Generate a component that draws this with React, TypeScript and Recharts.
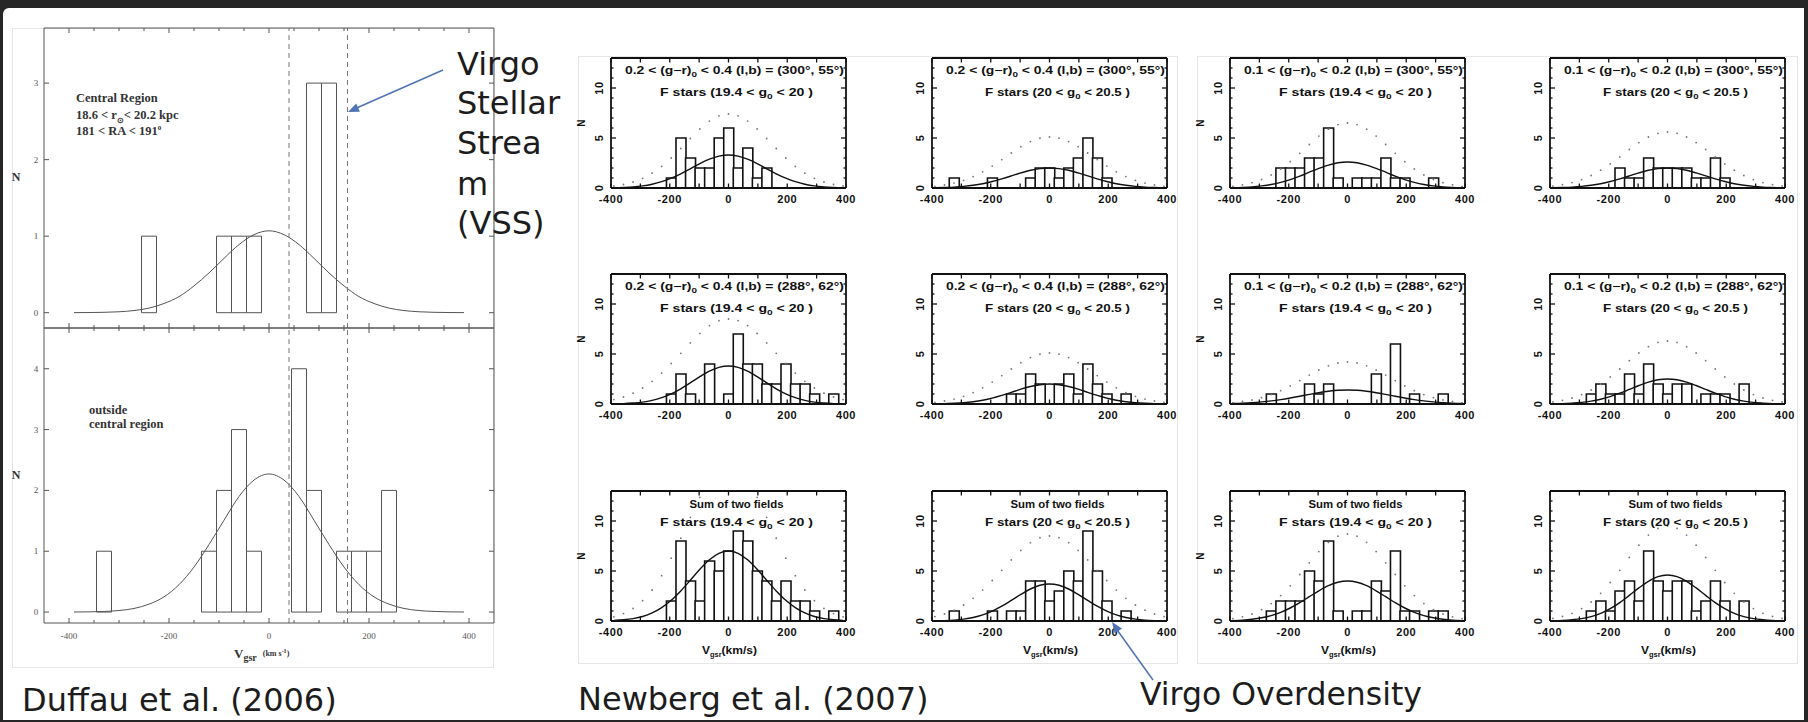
import React from 'react';
import { ComposedChart, Bar, Line, XAxis, YAxis, ReferenceLine } from 'recharts';

// ---- Duffau et al. (2006): 30 km/s bins, Gaussian fits on the same grid ----
const duffauBins = [-390, -360, -330, -300, -270, -240, -210, -180, -150, -120, -90, -60, -30, 0, 30, 60, 90, 120, 150, 180, 210, 240, 270, 300, 330, 360, 390];
const duffauCentral = [0, 0, 0, 0, 0, 1, 0, 0, 0, 0, 1, 1, 1, 0, 0, 0, 3, 3, 0, 0, 0, 0, 0, 0, 0, 0, 0];
const duffauOutside = [0, 0, 1, 0, 0, 0, 0, 0, 0, 1, 2, 3, 1, 0, 0, 4, 2, 0, 1, 1, 1, 2, 0, 0, 0, 0, 0];
const duffauCentralFit = [0.001, 0.002, 0.005, 0.012, 0.028, 0.06, 0.12, 0.21, 0.35, 0.52, 0.71, 0.89, 1.02, 1.07, 1.02, 0.89, 0.71, 0.52, 0.35, 0.21, 0.12, 0.06, 0.028, 0.012, 0.005, 0.002, 0.001];
const duffauOutsideFit = [0.001, 0.003, 0.01, 0.025, 0.059, 0.13, 0.25, 0.45, 0.74, 1.11, 1.51, 1.9, 2.17, 2.27, 2.17, 1.9, 1.51, 1.11, 0.74, 0.45, 0.25, 0.13, 0.059, 0.025, 0.01, 0.003, 0.001];
const duffauXTicks = [-400, -350, -300, -250, -200, -150, -100, -50, 0, 50, 100, 150, 200, 250, 300, 350, 400];
const duffauXLabels = [-400, -200, 0, 200, 400];
const duffauStreamEdges = [40, 157];

// ---- Newberg et al. (2007): 32.5 km/s bins ----
const newbergBins = [-390, -357.5, -325, -292.5, -260, -227.5, -195, -162.5, -130, -97.5, -65, -32.5, 0, 32.5, 65, 97.5, 130, 162.5, 195, 227.5, 260, 292.5, 325, 357.5, 390];
const newbergXTicks = [-400, -300, -200, -100, 0, 100, 200, 300, 400];
const newbergXLabels = [-400, -200, 0, 200, 400];
const newbergYTicks = [0, 1, 2, 3, 4, 5, 6, 7, 8, 9, 10, 11, 12, 13];
const newbergYLabels = [0, 5, 10];

// 0.2 < (g-r)0 < 0.4
const redBright300 = [0, 0, 0, 0, 0, 0, 1, 5, 3, 2, 2, 5, 6, 2, 4, 1, 2, 0, 0, 0, 0, 0, 0, 0, 0];
const redFaint300 = [0, 0, 1, 0, 0, 0, 1, 0, 0, 0, 1, 2, 2, 1, 2, 3, 5, 3, 1, 0, 0, 0, 0, 0, 0];
const redBright288 = [0, 0, 0, 0, 0, 0, 1, 3, 1, 0, 4, 0, 1, 7, 4, 4, 2, 2, 4, 2, 2, 1, 0, 1, 0];
const redFaint288 = [0, 0, 0, 0, 0, 0, 0, 0, 1, 1, 3, 2, 0, 2, 3, 1, 4, 2, 1, 0, 1, 0, 0, 0, 0];
const redBrightSum = [0, 0, 0, 0, 0, 0, 2, 8, 4, 2, 6, 5, 7, 9, 8, 5, 4, 2, 4, 2, 2, 1, 0, 1, 0];
const redFaintSum = [0, 0, 1, 0, 0, 0, 1, 0, 1, 1, 4, 4, 2, 3, 5, 4, 9, 5, 2, 0, 1, 0, 0, 0, 0];

const redBright300Fit = [0.03, 0.06, 0.11, 0.21, 0.38, 0.63, 0.98, 1.42, 1.92, 2.44, 2.88, 3.19, 3.3, 3.19, 2.88, 2.44, 1.92, 1.42, 0.98, 0.63, 0.38, 0.21, 0.11, 0.06, 0.03];
const redBright300Model = [0.2, 0.35, 0.6, 0.97, 1.48, 2.16, 3.0, 3.95, 4.95, 5.91, 6.69, 7.22, 7.4, 7.22, 6.69, 5.91, 4.95, 3.95, 3.0, 2.16, 1.48, 0.97, 0.6, 0.35, 0.2];
const redFaint300Fit = [0.02, 0.05, 0.09, 0.16, 0.27, 0.43, 0.65, 0.92, 1.21, 1.51, 1.77, 1.94, 2.0, 1.94, 1.77, 1.51, 1.21, 0.92, 0.65, 0.43, 0.27, 0.16, 0.09, 0.05, 0.02];
const redFaint300Model = [0.17, 0.3, 0.49, 0.76, 1.14, 1.62, 2.19, 2.84, 3.5, 4.13, 4.64, 4.98, 5.1, 4.98, 4.64, 4.13, 3.5, 2.84, 2.19, 1.62, 1.14, 0.76, 0.49, 0.3, 0.17];
const redBright288Fit = [0.02, 0.04, 0.1, 0.19, 0.36, 0.63, 1.01, 1.52, 2.11, 2.73, 3.28, 3.66, 3.8, 3.66, 3.28, 2.73, 2.11, 1.52, 1.01, 0.63, 0.36, 0.19, 0.1, 0.04, 0.02];
const redBright288Model = [0.44, 0.7, 1.08, 1.6, 2.27, 3.09, 4.05, 5.07, 6.11, 7.06, 7.83, 8.33, 8.5, 8.33, 7.83, 7.06, 6.11, 5.07, 4.05, 3.09, 2.27, 1.6, 1.08, 0.7, 0.44];
const redFaint288Fit = [0.02, 0.03, 0.07, 0.13, 0.23, 0.38, 0.59, 0.86, 1.16, 1.48, 1.75, 1.93, 2.0, 1.93, 1.75, 1.48, 1.16, 0.86, 0.59, 0.38, 0.23, 0.13, 0.07, 0.03, 0.02];
const redFaint288Model = [0.17, 0.3, 0.49, 0.76, 1.14, 1.62, 2.19, 2.84, 3.5, 4.13, 4.64, 4.98, 5.1, 4.98, 4.64, 4.13, 3.5, 2.84, 2.19, 1.62, 1.14, 0.76, 0.49, 0.3, 0.17];
const redBrightSumFit = [0.05, 0.12, 0.24, 0.45, 0.81, 1.34, 2.07, 3.01, 4.07, 5.17, 6.12, 6.77, 7.0, 6.77, 6.12, 5.17, 4.07, 3.01, 2.07, 1.34, 0.81, 0.45, 0.24, 0.12, 0.05];
const redBrightSumModel = [0.42, 0.74, 1.26, 2.03, 3.1, 4.53, 6.28, 8.28, 10.37, 12.37, 14.01, 15.11, 15.5, 15.11, 14.01, 12.37, 10.37, 8.28, 6.28, 4.53, 3.1, 2.03, 1.26, 0.74, 0.42];
const redFaintSumFit = [0.02, 0.04, 0.09, 0.19, 0.35, 0.61, 0.99, 1.48, 2.06, 2.66, 3.2, 3.57, 3.7, 3.57, 3.2, 2.66, 2.06, 1.48, 0.99, 0.61, 0.35, 0.19, 0.09, 0.04, 0.02];
const redFaintSumModel = [0.44, 0.7, 1.08, 1.6, 2.27, 3.09, 4.05, 5.07, 6.11, 7.06, 7.83, 8.33, 8.5, 8.33, 7.83, 7.06, 6.11, 5.07, 4.05, 3.09, 2.27, 1.6, 1.08, 0.7, 0.44];

// 0.1 < (g-r)0 < 0.2
const blueBright300 = [0, 0, 0, 0, 0, 2, 2, 2, 3, 3, 6, 1, 0, 1, 1, 1, 3, 1, 1, 0, 0, 1, 0, 0, 0];
const blueFaint300 = [0, 0, 0, 0, 0, 0, 0, 2, 1, 1, 3, 2, 2, 2, 2, 1, 1, 3, 1, 0, 0, 0, 0, 0, 0];
const blueBright288 = [0, 0, 0, 0, 1, 0, 0, 0, 2, 1, 2, 0, 0, 0, 0, 3, 0, 6, 0, 1, 0, 0, 1, 0, 0];
const blueFaint288 = [0, 0, 0, 0, 1, 2, 1, 1, 3, 1, 4, 2, 1, 2, 2, 0, 1, 1, 1, 0, 2, 0, 0, 0, 0];
const blueBrightSum = [0, 0, 0, 0, 1, 2, 2, 2, 5, 4, 8, 1, 0, 1, 1, 4, 3, 7, 1, 1, 0, 1, 1, 0, 0];
const blueFaintSum = [0, 0, 0, 0, 1, 2, 1, 3, 4, 2, 7, 4, 3, 4, 4, 1, 2, 4, 2, 0, 2, 0, 0, 0, 0];

const blueBright300Fit = [0.03, 0.06, 0.11, 0.21, 0.35, 0.56, 0.84, 1.19, 1.58, 1.96, 2.29, 2.52, 2.6, 2.52, 2.29, 1.96, 1.58, 1.19, 0.84, 0.56, 0.35, 0.21, 0.11, 0.06, 0.03];
const blueBright300Model = [0.17, 0.31, 0.53, 0.85, 1.3, 1.9, 2.63, 3.47, 4.35, 5.19, 5.88, 6.34, 6.5, 6.34, 5.88, 5.19, 4.35, 3.47, 2.63, 1.9, 1.3, 0.85, 0.53, 0.31, 0.17];
const blueFaint300Fit = [0.02, 0.05, 0.09, 0.16, 0.27, 0.43, 0.65, 0.92, 1.21, 1.51, 1.77, 1.94, 2.0, 1.94, 1.77, 1.51, 1.21, 0.92, 0.65, 0.43, 0.27, 0.16, 0.09, 0.05, 0.02];
const blueFaint300Model = [0.19, 0.33, 0.54, 0.83, 1.25, 1.78, 2.41, 3.11, 3.85, 4.54, 5.1, 5.47, 5.6, 5.47, 5.1, 4.54, 3.85, 3.11, 2.41, 1.78, 1.25, 0.83, 0.54, 0.33, 0.19];
const blueBright288Fit = [0.05, 0.08, 0.13, 0.21, 0.31, 0.44, 0.6, 0.78, 0.96, 1.13, 1.27, 1.37, 1.4, 1.37, 1.27, 1.13, 0.96, 0.78, 0.6, 0.44, 0.31, 0.21, 0.13, 0.08, 0.05];
const blueBright288Model = [0.14, 0.25, 0.4, 0.63, 0.94, 1.33, 1.81, 2.34, 2.89, 3.4, 3.82, 4.1, 4.2, 4.1, 3.82, 3.4, 2.89, 2.34, 1.81, 1.33, 0.94, 0.63, 0.4, 0.25, 0.14];
const blueFaint288Fit = [0.02, 0.04, 0.09, 0.16, 0.29, 0.48, 0.74, 1.08, 1.46, 1.85, 2.19, 2.42, 2.5, 2.42, 2.19, 1.85, 1.46, 1.08, 0.74, 0.48, 0.29, 0.16, 0.09, 0.04, 0.02];
const blueFaint288Model = [0.21, 0.37, 0.6, 0.94, 1.4, 2.0, 2.71, 3.5, 4.33, 5.1, 5.73, 6.16, 6.3, 6.16, 5.73, 5.1, 4.33, 3.5, 2.71, 2.0, 1.4, 0.94, 0.6, 0.37, 0.21];
const blueBrightSumFit = [0.04, 0.09, 0.18, 0.32, 0.54, 0.87, 1.3, 1.83, 2.43, 3.02, 3.53, 3.88, 4.0, 3.88, 3.53, 3.02, 2.43, 1.83, 1.3, 0.87, 0.54, 0.32, 0.18, 0.09, 0.04];
const blueBrightSumModel = [0.23, 0.42, 0.7, 1.14, 1.74, 2.54, 3.52, 4.65, 5.82, 6.94, 7.86, 8.48, 8.7, 8.48, 7.86, 6.94, 5.82, 4.65, 3.52, 2.54, 1.74, 1.14, 0.7, 0.42, 0.23];
const blueFaintSumFit = [0.02, 0.05, 0.12, 0.24, 0.44, 0.76, 1.23, 1.84, 2.56, 3.31, 3.97, 4.43, 4.6, 4.43, 3.97, 3.31, 2.56, 1.84, 1.23, 0.76, 0.44, 0.24, 0.12, 0.05, 0.02];
const blueFaintSumModel = [0.26, 0.46, 0.77, 1.24, 1.9, 2.77, 3.85, 5.07, 6.36, 7.58, 8.59, 9.26, 9.5, 9.26, 8.59, 7.58, 6.36, 5.07, 3.85, 2.77, 1.9, 1.24, 0.77, 0.46, 0.26];

const SANS = '"Liberation Sans", Arial, sans-serif';
const SERIF = '"Liberation Serif", "Times New Roman", serif';
const SLIDE = '"DejaVu Sans", sans-serif';

type Frame = { left: number; top: number; width: number; height: number };

type Look = {
  ink: string;
  frameWidth: number;
  barWidth: number;
  fitWidth: number;
  tickWidth: number;
  xTickLen: (v: number) => number;
  yTickLen: (v: number) => number;
  labelFont: string;
  labelSize: number;
  labelWeight: string | number;
  labelFill: string;
  labelSpacing: number;
  rotateY: boolean;
  xLabelDy: number;
  yLabelDx: number;
};

const newbergLook: Look = {
  ink: '#111',
  frameWidth: 1.8,
  barWidth: 1.6,
  fitWidth: 1.4,
  tickWidth: 1.3,
  xTickLen: () => 4.5,
  yTickLen: (v) => (v % 5 === 0 ? 5 : 2.5),
  labelFont: SANS,
  labelSize: 11,
  labelWeight: 'bold',
  labelFill: '#111',
  labelSpacing: 0.6,
  rotateY: true,
  xLabelDy: 14.5,
  yLabelDx: 8,
};

const duffauLook: Look = {
  ink: '#555',
  frameWidth: 1,
  barWidth: 1,
  fitWidth: 1,
  tickWidth: 1,
  xTickLen: (v) => (v % 200 === 0 ? 5 : 3),
  yTickLen: () => 5,
  labelFont: SERIF,
  labelSize: 9,
  labelWeight: 'normal',
  labelFill: '#555',
  labelSpacing: 0,
  rotateY: false,
  xLabelDy: 16,
  yLabelDx: 8,
};

interface HistProps {
  frame: Frame;
  look: Look;
  xDomain: [number, number];
  yDomain: [number, number];
  bins: number[];
  counts: number[];
  fit: number[];
  model?: number[];
  xTicks: number[];
  xLabels: number[];
  showXLabels: boolean;
  yTicks: number[];
  yLabels: number[];
  fitBehind: boolean;
  refLines?: number[];
}

// space around each plot frame for the axes
const L = 44;
const R = 18;
const T = 6;
const B = 26;

function Hist(p: HistProps) {
  const { frame, look } = p;
  const data = p.bins.map((x, i) => ({ x, n: p.counts[i] }));
  const fitData = p.bins.map((x, i) => ({ x, y: p.fit[i] }));
  const modelData = p.model ? p.bins.map((x, i) => ({ x, y: p.model![i] })) : null;

  const label = {
    fontFamily: look.labelFont,
    fontSize: look.labelSize,
    fontWeight: look.labelWeight,
    fill: look.labelFill,
    letterSpacing: look.labelSpacing,
  } as const;

  const bottomTick = (props: any) => {
    const { x, y, payload } = props;
    const v = payload.value as number;
    return (
      <g>
        <line x1={x} x2={x} y1={y} y2={y - look.xTickLen(v)} stroke={look.ink} strokeWidth={look.tickWidth} />
        {p.showXLabels && p.xLabels.includes(v) && (
          <text x={x} y={y + look.xLabelDy} textAnchor="middle" {...label}>
            {String(v)}
          </text>
        )}
      </g>
    );
  };
  const topTick = (props: any) => {
    const { x, y, payload } = props;
    const v = payload.value as number;
    return <line x1={x} x2={x} y1={y} y2={y + look.xTickLen(v)} stroke={look.ink} strokeWidth={look.tickWidth} />;
  };
  const leftTick = (props: any) => {
    const { x, y, payload } = props;
    const v = payload.value as number;
    const lx = x - look.yLabelDx;
    return (
      <g>
        <line x1={x} x2={x + look.yTickLen(v)} y1={y} y2={y} stroke={look.ink} strokeWidth={look.tickWidth} />
        {p.yLabels.includes(v) &&
          (look.rotateY ? (
            <text x={lx} y={y} transform={`rotate(-90 ${lx} ${y})`} textAnchor="middle" {...label}>
              {String(v)}
            </text>
          ) : (
            <text x={lx} y={y + 3} textAnchor="middle" {...label}>
              {String(v)}
            </text>
          ))}
      </g>
    );
  };
  const rightTick = (props: any) => {
    const { x, y, payload } = props;
    const v = payload.value as number;
    return <line x1={x} x2={x - look.yTickLen(v)} y1={y} y2={y} stroke={look.ink} strokeWidth={look.tickWidth} />;
  };

  const axisLine = { stroke: look.ink, strokeWidth: look.frameWidth };
  const fitLine = (
    <Line
      xAxisId="b"
      yAxisId="l"
      data={fitData}
      dataKey="y"
      type="monotone"
      dot={false}
      activeDot={false}
      stroke={look.ink}
      strokeWidth={look.fitWidth}
      isAnimationActive={false}
    />
  );

  return (
    <div style={{ position: 'absolute', left: frame.left - L, top: frame.top - T }}>
      <ComposedChart
        width={frame.width + L + R}
        height={frame.height + T + B}
        data={data}
        margin={{ top: 0, right: 0, bottom: 0, left: 0 }}
        barCategoryGap={0}
        barGap={0}
      >
        <XAxis
          xAxisId="b"
          dataKey="x"
          type="number"
          domain={p.xDomain}
          allowDataOverflow
          ticks={p.xTicks}
          interval={0}
          height={B}
          tickSize={0}
          tickMargin={0}
          tickLine={false}
          axisLine={axisLine}
          tick={bottomTick}
        />
        <XAxis
          xAxisId="t"
          orientation="top"
          dataKey="x"
          type="number"
          domain={p.xDomain}
          allowDataOverflow
          ticks={p.xTicks}
          interval={0}
          height={T}
          tickSize={0}
          tickMargin={0}
          tickLine={false}
          axisLine={axisLine}
          tick={topTick}
        />
        <YAxis
          yAxisId="l"
          type="number"
          domain={p.yDomain}
          allowDataOverflow
          ticks={p.yTicks}
          interval={0}
          width={L}
          tickSize={0}
          tickMargin={0}
          tickLine={false}
          axisLine={axisLine}
          tick={leftTick}
        />
        <YAxis
          yAxisId="r"
          orientation="right"
          type="number"
          domain={p.yDomain}
          allowDataOverflow
          ticks={p.yTicks}
          interval={0}
          width={R}
          tickSize={0}
          tickMargin={0}
          tickLine={false}
          axisLine={axisLine}
          tick={rightTick}
        />
        {p.fitBehind && fitLine}
        <Bar
          xAxisId="b"
          yAxisId="l"
          dataKey="n"
          fill="#fff"
          stroke={look.ink}
          strokeWidth={look.barWidth}
          isAnimationActive={false}
        />
        {!p.fitBehind && fitLine}
        {modelData && (
          <Line
            xAxisId="b"
            yAxisId="l"
            data={modelData}
            dataKey="y"
            stroke="none"
            dot={{ r: 0.9, fill: '#777', stroke: 'none' }}
            activeDot={false}
            isAnimationActive={false}
          />
        )}
        {(p.refLines || []).map((v) => (
          <ReferenceLine
            key={v}
            xAxisId="b"
            yAxisId="l"
            x={v}
            stroke="#777"
            strokeWidth={1}
            strokeDasharray="5 4"
          />
        ))}
      </ComposedChart>
    </div>
  );
}

// ---- Newberg grid layout ----
const COLS = [611, 932, 1230, 1550];
const ROWS = [58, 274, 491];
const PW = 235;
const PH = 130;

type PanelSpec = { col: number; row: number; counts: number[]; fit: number[]; model: number[] };

const newbergPanels: PanelSpec[] = [
  { col: 0, row: 0, counts: redBright300, fit: redBright300Fit, model: redBright300Model },
  { col: 1, row: 0, counts: redFaint300, fit: redFaint300Fit, model: redFaint300Model },
  { col: 0, row: 1, counts: redBright288, fit: redBright288Fit, model: redBright288Model },
  { col: 1, row: 1, counts: redFaint288, fit: redFaint288Fit, model: redFaint288Model },
  { col: 0, row: 2, counts: redBrightSum, fit: redBrightSumFit, model: redBrightSumModel },
  { col: 1, row: 2, counts: redFaintSum, fit: redFaintSumFit, model: redFaintSumModel },
  { col: 2, row: 0, counts: blueBright300, fit: blueBright300Fit, model: blueBright300Model },
  { col: 3, row: 0, counts: blueFaint300, fit: blueFaint300Fit, model: blueFaint300Model },
  { col: 2, row: 1, counts: blueBright288, fit: blueBright288Fit, model: blueBright288Model },
  { col: 3, row: 1, counts: blueFaint288, fit: blueFaint288Fit, model: blueFaint288Model },
  { col: 2, row: 2, counts: blueBrightSum, fit: blueBrightSumFit, model: blueBrightSumModel },
  { col: 3, row: 2, counts: blueFaintSum, fit: blueFaintSumFit, model: blueFaintSumModel },
];

const colourCuts = ['0.2', '0.4', '0.1', '0.2'];
const fieldNames = ['(300°, 55°)', '(288°, 62°)'];

const titleStyle = {
  fontFamily: SANS,
  fontSize: 10.5,
  fontWeight: 'bold',
  fill: '#111',
  whiteSpace: 'pre',
} as const;

function PanelText({ col, row }: { col: number; row: number }) {
  const left = COLS[col];
  const top = ROWS[row];
  const cx = left + PW / 2;
  const faint = col % 2 === 1;
  const group = col < 2 ? 0 : 1;
  const lo = colourCuts[group * 2];
  const hi = colourCuts[group * 2 + 1];
  const y1 = row < 2 ? top + 16 : top + 17;
  const y2 = row < 2 ? top + 38 : top + 35;
  return (
    <g>
      {row < 2 ? (
        <text x={cx + 6} y={y1} textAnchor="middle" textLength={219} lengthAdjust="spacingAndGlyphs" {...titleStyle}>
          {`${lo} < (g−r)`}
          <tspan dy={3} fontSize={7.5}>0</tspan>
          <tspan dy={-3}>{` < ${hi}  (l,b) = ${fieldNames[row]}`}</tspan>
        </text>
      ) : (
        <text x={cx + 8} y={y1} textAnchor="middle" textLength={94} lengthAdjust="spacingAndGlyphs" {...titleStyle}>
          Sum of two fields
        </text>
      )}
      <text
        x={cx + 8}
        y={y2}
        textAnchor="middle"
        textLength={faint ? 145 : 153}
        lengthAdjust="spacingAndGlyphs"
        {...titleStyle}
      >
        {faint ? 'F stars (20 < g' : 'F stars (19.4 < g'}
        <tspan dy={3} fontSize={7.5}>0</tspan>
        <tspan dy={-3}>{faint ? ' < 20.5 )' : ' < 20 )'}</tspan>
      </text>
      {!faint && (
        <text
          x={left - 26}
          y={top + PH / 2}
          transform={`rotate(-90 ${left - 26} ${top + PH / 2})`}
          textAnchor="middle"
          {...titleStyle}
          fontSize={10}
        >
          N
        </text>
      )}
      {row === 2 && (
        <text x={cx + 1} y={top + PH + 33} textAnchor="middle" textLength={55} lengthAdjust="spacingAndGlyphs" {...titleStyle}>
          V
          <tspan dy={2.5} fontSize={6.5}>gsr</tspan>
          <tspan dy={-2.5}>(km/s)</tspan>
        </text>
      )}
    </g>
  );
}

function arrowHead(x1: number, y1: number, x2: number, y2: number, len = 11, half = 4.5) {
  const dx = x2 - x1;
  const dy = y2 - y1;
  const d = Math.hypot(dx, dy);
  const ux = dx / d;
  const uy = dy / d;
  const bx = x2 - ux * len;
  const by = y2 - uy * len;
  return `${x2},${y2} ${bx - uy * half},${by + ux * half} ${bx + uy * half},${by - ux * half}`;
}

const ARROW = '#4f74b5';

export default function App() {
  const serifBold = { fontFamily: SERIF, fontWeight: 'bold', fill: '#333' } as const;
  const slide = { fontFamily: SLIDE, fill: '#1c1c1c' } as const;
  return (
    <div style={{ position: 'absolute', left: 0, top: 0, width: 1808, height: 722, background: '#262626', overflow: 'hidden' }}>
      <div
        style={{
          position: 'absolute',
          left: 3,
          top: 8,
          width: 1801,
          height: 712,
          background: '#fff',
          borderTopLeftRadius: 6,
        }}
      />
      {/* figure outlines */}
      <svg width={1808} height={722} style={{ position: 'absolute', left: 0, top: 0 }}>
        <rect x={12.5} y={28.5} width={481} height={639} fill="none" stroke="#e6e6e6" />
        <rect x={578.5} y={56.5} width={599} height={607} fill="none" stroke="#e6e6e6" />
        <rect x={1197.5} y={56.5} width={600} height={607} fill="none" stroke="#e6e6e6" />
      </svg>

      {/* Duffau et al. central / outside regions */}
      <Hist
        frame={{ left: 44, top: 28, width: 450, height: 300 }}
        look={duffauLook}
        xDomain={[-450, 450]}
        yDomain={[-0.2, 3.72]}
        bins={duffauBins}
        counts={duffauCentral}
        fit={duffauCentralFit}
        xTicks={duffauXTicks}
        xLabels={duffauXLabels}
        showXLabels={false}
        yTicks={[0, 1, 2, 3]}
        yLabels={[0, 1, 2, 3]}
        fitBehind
        refLines={duffauStreamEdges}
      />
      <Hist
        frame={{ left: 44, top: 328, width: 450, height: 295 }}
        look={duffauLook}
        xDomain={[-450, 450]}
        yDomain={[-0.18, 4.67]}
        bins={duffauBins}
        counts={duffauOutside}
        fit={duffauOutsideFit}
        xTicks={duffauXTicks}
        xLabels={duffauXLabels}
        showXLabels
        yTicks={[0, 1, 2, 3, 4]}
        yLabels={[0, 1, 2, 3, 4]}
        fitBehind
        refLines={duffauStreamEdges}
      />

      {/* Newberg et al. 3x2 grids */}
      {newbergPanels.map((s) => (
        <Hist
          key={`${s.col}-${s.row}`}
          frame={{ left: COLS[s.col], top: ROWS[s.row], width: PW, height: PH }}
          look={newbergLook}
          xDomain={[-400, 400]}
          yDomain={[0, 13]}
          bins={newbergBins}
          counts={s.counts}
          fit={s.fit}
          model={s.model}
          xTicks={newbergXTicks}
          xLabels={newbergXLabels}
          showXLabels
          yTicks={newbergYTicks}
          yLabels={newbergYLabels}
          fitBehind={false}
        />
      ))}

      <svg width={1808} height={722} style={{ position: 'absolute', left: 0, top: 0, pointerEvents: 'none' }}>
        {/* Duffau labels */}
        <text x={16} y={181} textAnchor="middle" fontSize={12} {...serifBold}>N</text>
        <text x={16} y={479} textAnchor="middle" fontSize={12} {...serifBold}>N</text>
        <text x={76} y={102} fontSize={12.5} {...serifBold}>Central Region</text>
        <text x={76} y={119} fontSize={12.5} {...serifBold}>
          18.6 {'<'} r
          <tspan dy={4} fontSize={8}>⊙</tspan>
          <tspan dy={-4}>{'< 20.2 kpc'}</tspan>
        </text>
        <text x={76} y={135} fontSize={12.5} {...serifBold}>
          181 {'<'} RA {'<'} 191
          <tspan dy={-5} fontSize={7}>0</tspan>
        </text>
        <text x={89} y={414} fontSize={12.5} {...serifBold}>outside</text>
        <text x={89} y={428} fontSize={12.5} {...serifBold}>central region</text>
        <text x={234} y={658} fontSize={13} {...serifBold}>
          V
          <tspan dy={3} fontSize={10}>gsr</tspan>
          <tspan dy={-5} fontSize={8} dx={6}>(km s</tspan>
          <tspan dy={-3} fontSize={6}>-1</tspan>
          <tspan dy={3} fontSize={8}>)</tspan>
        </text>

        {/* Newberg panel titles */}
        {newbergPanels.map((s) => (
          <PanelText key={`t-${s.col}-${s.row}`} col={s.col} row={s.row} />
        ))}

        {/* annotations */}
        <line x1={443} y1={70} x2={352} y2={110} stroke={ARROW} strokeWidth={1.5} />
        <polygon points={arrowHead(443, 70, 348, 112)} fill={ARROW} />
        <line x1={1153} y1={680} x2={1115} y2={627} stroke={ARROW} strokeWidth={1.5} />
        <polygon points={arrowHead(1153, 680, 1112, 622)} fill={ARROW} />

        <text fontSize={32} {...slide}>
          <tspan x={457} y={75}>Virgo</tspan>
          <tspan x={457} y={114}>Stellar</tspan>
          <tspan x={457} y={154}>Strea</tspan>
          <tspan x={457} y={195}>m</tspan>
          <tspan x={457} y={234}>(VSS)</tspan>
        </text>
        <text x={22} y={711} fontSize={32} {...slide}>Duffau et al. (2006)</text>
        <text x={578} y={710} fontSize={32} {...slide}>Newberg et al. (2007)</text>
        <text x={1140} y={705} fontSize={31.5} {...slide}>Virgo Overdensity</text>
      </svg>
    </div>
  );
}
